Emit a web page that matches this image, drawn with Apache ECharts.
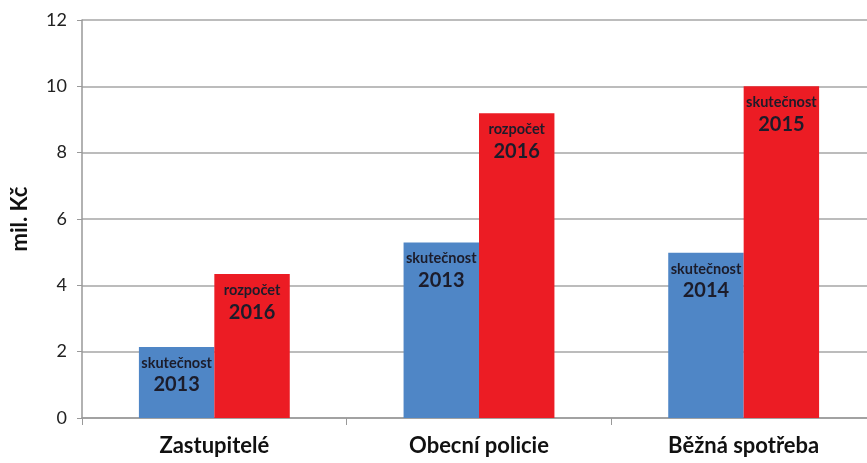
<!DOCTYPE html>
<html><head><meta charset="utf-8">
<script src="https://cdn.jsdelivr.net/npm/echarts@6/dist/echarts.min.js"></script>
<style>html,body{margin:0;padding:0;background:#fff;overflow:hidden;width:867px;height:463px}#c{width:876px;height:463px}</style>
</head><body><div id="c"></div>
<script>
const categories = ['Zastupitelé', 'Obecní policie', 'Běžná spotřeba'];
const blueValues = [2.14, 5.29, 4.98];
const redValues = [4.34, 9.19, 10.0];
const blueTypes = ['skutečnost', 'skutečnost', 'skutečnost'];
const blueYears = ['2013', '2013', '2014'];
const redTypes = ['rozpočet', 'rozpočet', 'skutečnost'];
const redYears = ['2016', '2016', '2015'];
const yTicks = [0, 2, 4, 6, 8, 10, 12];

const FONT = 'Lato';
function mkLabel(types, years) {
  return {
    show: true, position: 'insideTop', distance: 6,
    formatter: p => '{a|' + types[p.dataIndex] + '}\n{b|' + years[p.dataIndex] + '}',
    rich: {
      a: { fontFamily: FONT, fontWeight: 'bold', fontSize: 14.5, color: '#1c1c2a', lineHeight: 20 },
      b: { fontFamily: FONT, fontWeight: 'bold', fontSize: 20, color: '#1c1c2a', lineHeight: 24 }
    }
  };
}
const chart = echarts.init(document.getElementById('c'));
chart.setOption({
  backgroundColor: '#fff',
  animation: false,
  grid: { left: 82, top: 20, right: 0, bottom: 45, containLabel: false },
  xAxis: {
    type: 'category', data: categories,
    axisLine: { show: true, lineStyle: { color: '#999', width: 1.5 } },
    axisTick: { show: true, length: 7, lineStyle: { color: '#999' } },
    axisLabel: { margin: 17, fontFamily: FONT, fontWeight: 'bold', fontSize: 22, color: '#111' }
  },
  yAxis: {
    type: 'value', min: yTicks[0], max: yTicks[yTicks.length - 1], interval: 2,
    name: 'mil. Kč', nameLocation: 'middle', nameGap: 51, nameRotate: 90,
    nameTextStyle: { fontFamily: FONT, fontWeight: 'bold', fontSize: 22, color: '#111' },
    axisLine: { show: true, lineStyle: { color: '#999', width: 1.5 } },
    axisTick: { show: true, length: 5, lineStyle: { color: '#999' } },
    axisLabel: { margin: 15, fontFamily: FONT, fontSize: 18, color: '#222' },
    splitLine: { show: true, lineStyle: { color: '#a6a6a6', width: 1.5 } }
  },
  series: [
    { type: 'bar', data: blueValues, barGap: '0%', barCategoryGap: '43%',
      itemStyle: { color: '#4f86c6' }, label: mkLabel(blueTypes, blueYears) },
    { type: 'bar', data: redValues, barGap: '0%', barCategoryGap: '43%',
      itemStyle: { color: '#ec1c24' }, label: mkLabel(redTypes, redYears) }
  ]
});
</script></body></html>
